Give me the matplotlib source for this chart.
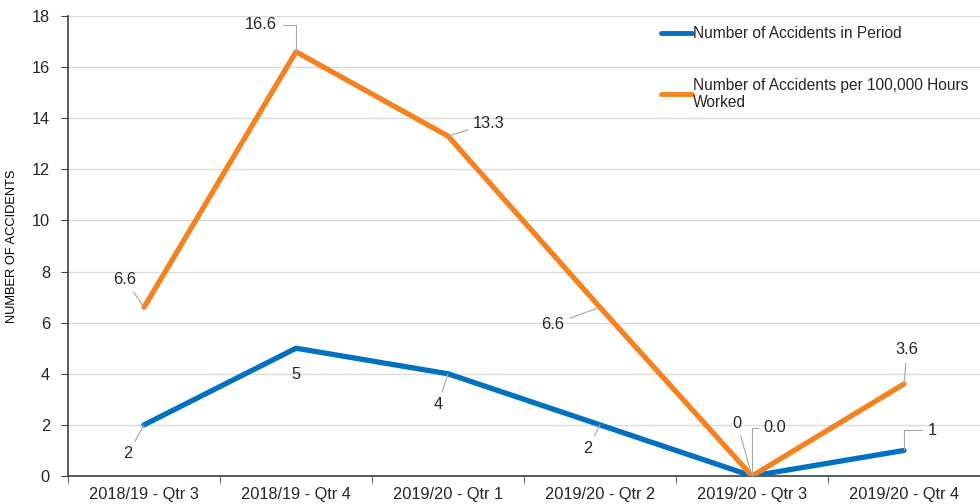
import matplotlib
matplotlib.use("Agg")
import matplotlib.pyplot as plt
from matplotlib import font_manager

# data
quarters = ['2018/19 - Qtr 3', '2018/19 - Qtr 4', '2019/20 - Qtr 1',
            '2019/20 - Qtr 2', '2019/20 - Qtr 3', '2019/20 - Qtr 4']
accidents = [2, 5, 4, 2, 0, 1]
per_100k = [6.6, 16.6, 13.3, 6.6, 0.0, 3.6]

BLUE = '#0070C0'
ORANGE = '#F5821F'
GREY = '#A6A6A6'
FS = 11.8

plt.rcParams['font.family'] = ['Liberation Sans', 'DejaVu Sans']
plt.rcParams['font.size'] = FS
plt.rcParams['text.color'] = '#262626'

names = {f.name for f in font_manager.fontManager.ttflist}
narrow = 'Liberation Sans Narrow' if 'Liberation Sans Narrow' in names else None

fig = plt.figure(figsize=(9.8, 5.04), dpi=100)
ax = fig.add_axes([68 / 980, 28 / 504, 912 / 980, 460 / 504])

x = list(range(len(quarters)))
ax.plot(x, accidents, color=BLUE, lw=3.8, solid_capstyle='round',
        label='Number of Accidents in Period', zorder=3)
ax.plot(x, per_100k, color=ORANGE, lw=3.8, solid_capstyle='round',
        label='Number of Accidents per 100,000 Hours\nWorked', zorder=3)

ax.set_xlim(-0.5, len(quarters) - 0.5)
ax.set_ylim(0, 18)
ax.set_yticks(range(0, 19, 2))
ax.set_xticks(x)
ax.set_xticklabels(quarters)
ax.set_xticks([i - 0.5 for i in range(len(quarters) + 1)], minor=True)
ax.tick_params(axis='x', which='major', length=0, pad=8)
ax.tick_params(axis='x', which='minor', length=5, color='#404040')
ax.tick_params(axis='y', length=5, color='#404040', pad=8)
ax.tick_params(labelsize=FS, labelcolor='#262626')
ax.grid(axis='y', color='#D9D9D9', lw=0.9)
ax.set_axisbelow(True)
for s in ['top', 'right']:
    ax.spines[s].set_visible(False)
for s in ['left', 'bottom']:
    ax.spines[s].set_color('#404040')
    ax.spines[s].set_linewidth(1.2)

if narrow:
    ax.set_ylabel('NUMBER OF ACCIDENTS', fontsize=10.5, family=narrow)
else:
    ax.set_ylabel('NUMBER OF ACCIDENTS', fontsize=9.3)
ax.yaxis.set_label_coords(-50 / 912, 0.5)

# data labels: (dx, dy) offsets in pixels and leader line shape (None = no leader)
STRAIGHT = 'arc3'
ELBOW = 'angle,angleA=0,angleB=90,rad=0'
blue_off = [(-16, -29), (0, -26), (-10, -31), (-12, -24), (-15, 53), (28, 20)]
blue_conn = [STRAIGHT, None, STRAIGHT, STRAIGHT, STRAIGHT, ELBOW]
orange_off = [(-19, 28), (-35, 27), (41, 13), (-47, -17), (23, 48), (3, 34)]
orange_conn = [STRAIGHT, ELBOW, STRAIGHT, STRAIGHT, ELBOW, STRAIGHT]

def label_series(vals, offs, conns, fmt):
    for i, v in enumerate(vals):
        props = None
        if conns[i]:
            props = dict(arrowstyle='-', color=GREY, lw=0.8, shrinkA=2, shrinkB=0,
                         connectionstyle=conns[i])
        ax.annotate(fmt.format(v), xy=(i, v), xytext=offs[i], textcoords='offset pixels',
                    ha='center', va='center', fontsize=FS, arrowprops=props, zorder=4)

label_series(accidents, blue_off, blue_conn, '{:d}')
label_series(per_100k, orange_off, orange_conn, '{:.1f}')

leg = ax.legend(loc='upper left', bbox_to_anchor=(583 / 912, 1.0), frameon=False,
                handlelength=2.0, handletextpad=0.05, labelspacing=2.35,
                fontsize=11.2, borderaxespad=0.25)
for h in leg.get_lines():
    h.set_linewidth(3.5)

fig.savefig('out.png', dpi=100)
